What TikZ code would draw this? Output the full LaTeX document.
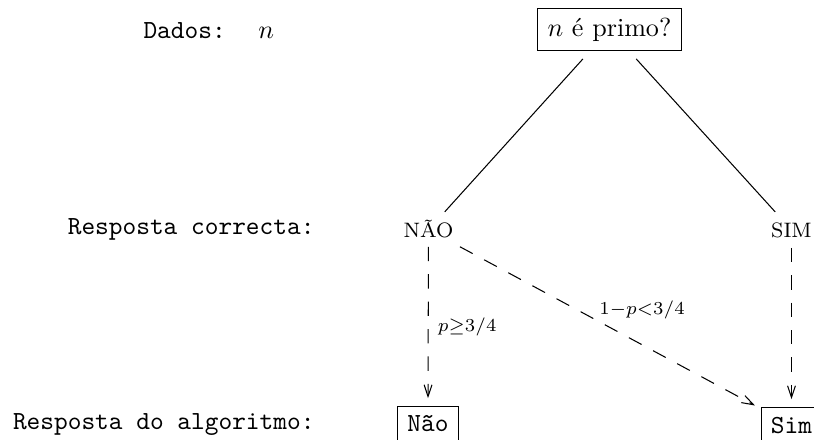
\documentclass[tikz,border=0pt]{standalone}
\usetikzlibrary{arrows.meta}
\begin{document}
\begin{tikzpicture}[x=0.38314pt,y=-0.38314pt,
  framebox/.style={draw, line width=0.4pt, inner xsep=3.7pt, inner ysep=3.6pt},
  answer/.style={font=\footnotesize, inner sep=0pt, text height=5.5pt, text depth=0pt, anchor=base},
  caption/.style={font=\ttfamily, inner sep=0pt, anchor=base east},
  tree/.style={line width=0.4pt},
  guess/.style={line width=0.4pt, dash pattern=on 5.5pt off 5pt,
    -{Straight Barb[length=4.5pt,width=3pt]}},
  prob/.style={inner sep=1.5pt}]
\useasboundingbox (0,0) rectangle (814,440);

% question and input
\node[anchor=base west, inner sep=0pt] (dados) at (143,38) {\texttt{Dados:}\hspace{12.5pt}$n$};
\node[framebox] (top) at (609.5,29.5) {$n$ é primo?};

% row captions
\node[caption] (correcta) at (315,234) {Resposta correcta:};
\node[caption] (algoritmo) at (315,429) {Resposta do algoritmo:};

% correct answers
\node[answer] (nao) at (428.5,237) {NÃO};
\node[answer] (sim) at (791.5,237) {SIM};

% algorithm answers
\node[framebox, font=\ttfamily, anchor=north] (naobox) at (428,406) {Não};
\node[framebox, font=\ttfamily, anchor=north] (simbox) at (791.5,407) {Sim};

% branches of the question
\draw[tree, shorten <=15.2pt, shorten >=9.3pt] (top.center) -- (nao.center);
\draw[tree, shorten <=15.2pt, shorten >=9.3pt] (top.center) -- (sim.center);

% outcomes of the algorithm
\draw[guess, shorten <=6.5pt, shorten >=3pt] (nao.center) -- (naobox.north)
  node[prob, pos=0.55, anchor=west, xshift=2pt] {$\scriptstyle p\geq 3/4$};
\draw[guess, shorten <=13.7pt, shorten >=15.9pt] (nao.center) -- (simbox.center)
  node[prob, pos=0.465, anchor=south west, inner sep=0.6pt] {$\scriptstyle 1-p<3/4$};
\draw[guess, shorten <=6.9pt, shorten >=3pt] (sim.center) -- (simbox.north);
\end{tikzpicture}
\end{document}
